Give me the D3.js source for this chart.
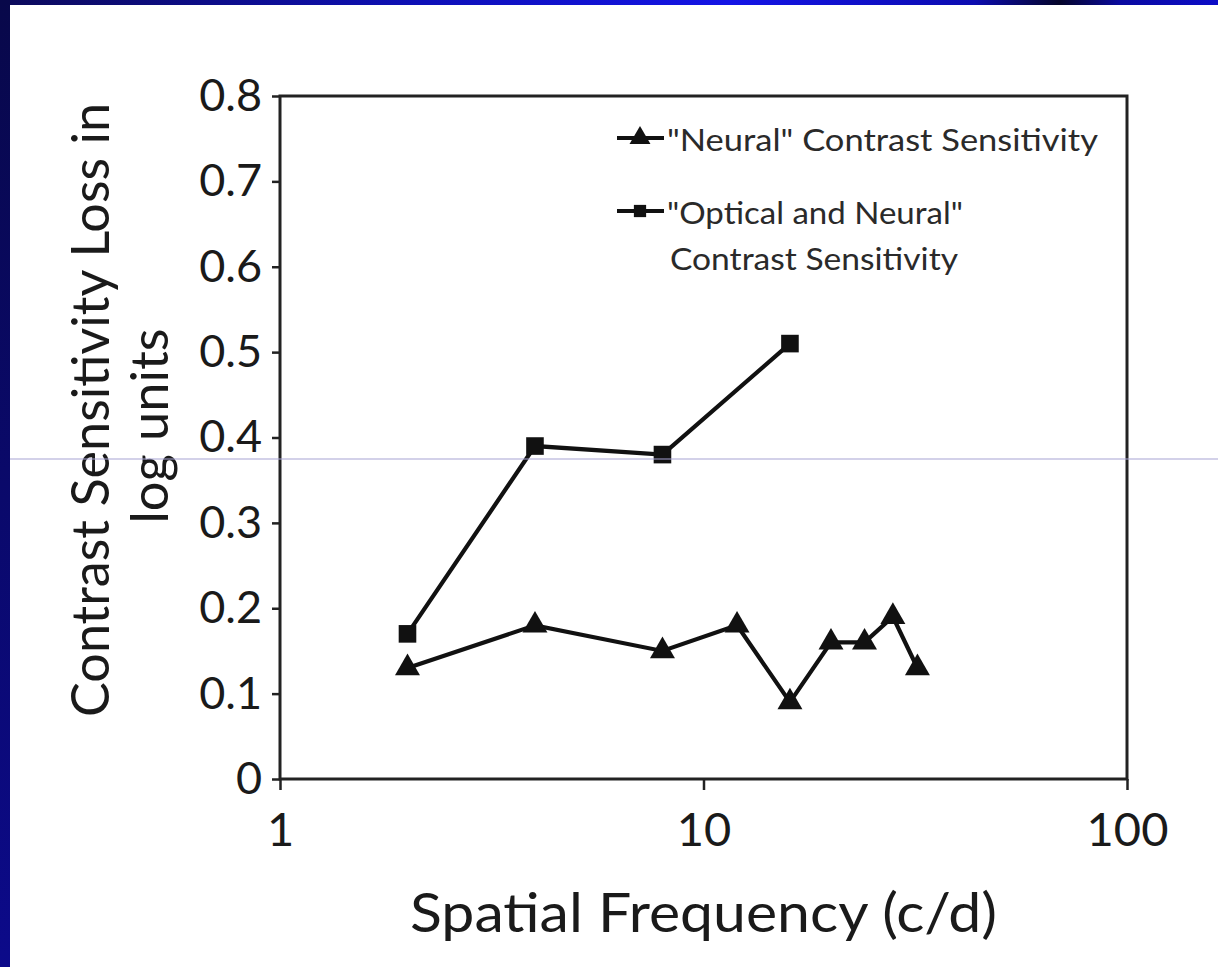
<!DOCTYPE html>
<html>
<head>
<meta charset="utf-8">
<script src="https://cdn.jsdelivr.net/npm/d3@7"></script>
<style>
  body { margin: 0; background: #fff; }
  svg { display: block; }
  text { font-family: Lato, "Open Sans", sans-serif; fill: #1a1a1a; }
</style>
</head>
<body>
<svg id="chart" width="1218" height="967"></svg>
<script>
// data
var freqNeural = [2, 4, 8, 12, 16, 20, 24, 28, 32];
var lossNeural = [0.13, 0.18, 0.15, 0.18, 0.09, 0.16, 0.16, 0.19, 0.13];
var freqOptical = [2, 4, 8, 16];
var lossOptical = [0.17, 0.39, 0.38, 0.51];
var xTicks = [1, 10, 100];
var yTicks = [0, 0.1, 0.2, 0.3, 0.4, 0.5, 0.6, 0.7, 0.8];

var width = 1218, height = 967;
var margin = {left: 280, top: 96, right: 91, bottom: 188};

var svg = d3.select("#chart");

// slide frame: blue bars on top and left
var defs = svg.append("defs");
var gTop = defs.append("linearGradient").attr("id", "topbar");
[["0%", "#0c0a5a"], ["35%", "#0e10b8"], ["60%", "#1414e6"], ["80%", "#0c0cb0"],
 ["87%", "#05052a"], ["92%", "#0a0aa0"], ["100%", "#0c0cc8"]].forEach(function (s) {
    gTop.append("stop").attr("offset", s[0]).attr("stop-color", s[1]);
});
var gLeft = defs.append("linearGradient").attr("id", "leftbar")
    .attr("x1", 0).attr("y1", 0).attr("x2", 0).attr("y2", 1);
gLeft.append("stop").attr("offset", "0%").attr("stop-color", "#08084a");
gLeft.append("stop").attr("offset", "100%").attr("stop-color", "#0c0a8a");

svg.append("rect").attr("x", 0).attr("y", 0).attr("width", width).attr("height", 5)
    .attr("fill", "url(#topbar)");
svg.append("rect").attr("x", 0).attr("y", 0).attr("width", 10).attr("height", height)
    .attr("fill", "url(#leftbar)");

var x = d3.scaleLog()
    .domain([1, 100])
    .range([margin.left, width - margin.right]);

var y = d3.scaleLinear()
    .domain([0, 0.8])
    .range([height - margin.bottom, margin.top]);

// plot frame
svg.append("rect")
    .attr("x", x(1)).attr("y", y(0.8))
    .attr("width", x(100) - x(1)).attr("height", y(0) - y(0.8))
    .attr("fill", "none").attr("stroke", "#222").attr("stroke-width", 3);

var xAxis = svg.append("g")
    .attr("transform", "translate(0," + y(0) + ")")
    .call(d3.axisBottom(x).tickValues(xTicks).tickFormat(d3.format("d")).tickSize(11).tickPadding(23));
xAxis.select(".domain").remove();
xAxis.selectAll("line").attr("stroke", "#222").attr("stroke-width", 2.5);
xAxis.selectAll("text").style("font-size", "47px").style("fill", "#1a1a1a");

var yAxis = svg.append("g")
    .attr("transform", "translate(" + x(1) + ",0)")
    .call(d3.axisLeft(y).tickValues(yTicks).tickFormat(function (d) { return d === 0 ? "0" : d3.format(".1f")(d); })
        .tickSize(8).tickPadding(10));
yAxis.select(".domain").remove();
yAxis.selectAll("line").attr("stroke", "#222").attr("stroke-width", 2.5);
yAxis.selectAll("text").style("font-size", "45px").style("fill", "#1a1a1a");

// axis titles
svg.append("text")
    .attr("x", x(10)).attr("y", 932)
    .attr("text-anchor", "middle")
    .attr("textLength", 587).attr("lengthAdjust", "spacingAndGlyphs")
    .style("font-size", "55px")
    .text("Spatial Frequency (c/d)");

var yt = svg.append("g")
    .attr("transform", "translate(0,410) rotate(-90)");
yt.append("text")
    .attr("x", 0).attr("y", 109)
    .attr("text-anchor", "middle")
    .attr("textLength", 614).attr("lengthAdjust", "spacingAndGlyphs")
    .style("font-size", "53px")
    .text("Contrast Sensitivity Loss in");
yt.append("text")
    .attr("x", -16).attr("y", 168)
    .attr("text-anchor", "middle")
    .attr("textLength", 195).attr("lengthAdjust", "spacingAndGlyphs")
    .style("font-size", "53px")
    .text("log units");

var line = d3.line()
    .x(function (d) { return x(d[0]); })
    .y(function (d) { return y(d[1]); });

var neural = d3.zip(freqNeural, lossNeural);
var optical = d3.zip(freqOptical, lossOptical);

var triangle = d3.symbol().type(d3.symbolTriangle).size(270);
var square = d3.symbol().type(d3.symbolSquare).size(310);

function drawSeries(data, sym) {
    svg.append("path")
        .datum(data)
        .attr("fill", "none")
        .attr("stroke", "#111")
        .attr("stroke-width", 4.2)
        .attr("d", line);
    svg.selectAll(null)
        .data(data)
        .enter().append("path")
        .attr("transform", function (d) { return "translate(" + x(d[0]) + "," + y(d[1]) + ")"; })
        .attr("d", sym)
        .attr("fill", "#111");
}
drawSeries(optical, square);
drawSeries(neural, triangle);

// legend
var legend = [
    {sym: d3.symbol().type(d3.symbolTriangle).size(190), y: 138, base: 151,
     lines: [["\"Neural\" Contrast Sensitivity", 431]]},
    {sym: d3.symbol().type(d3.symbolSquare).size(150), y: 211, base: 224,
     lines: [["\"Optical and Neural\"", 296], ["Contrast Sensitivity", 288]]}
];
legend.forEach(function (l) {
    svg.append("line").attr("x1", 617).attr("x2", 664).attr("y1", l.y).attr("y2", l.y)
        .attr("stroke", "#111").attr("stroke-width", 4);
    svg.append("path").attr("transform", "translate(640," + l.y + ")")
        .attr("d", l.sym).attr("fill", "#111");
    l.lines.forEach(function (s, i) {
        svg.append("text")
            .attr("x", i === 0 ? 667 : 670).attr("y", l.base + i * 46)
            .attr("textLength", s[1]).attr("lengthAdjust", "spacingAndGlyphs")
            .style("font-size", "31px").style("fill", "#2a2a2a")
            .text(s[0]);
    });
});

// thin grey rule across the slide
svg.append("line")
    .attr("x1", 10).attr("x2", width).attr("y1", 459).attr("y2", 459)
    .attr("stroke", "#a8a4d4").attr("stroke-width", 1.2);
</script>
</body>
</html>
